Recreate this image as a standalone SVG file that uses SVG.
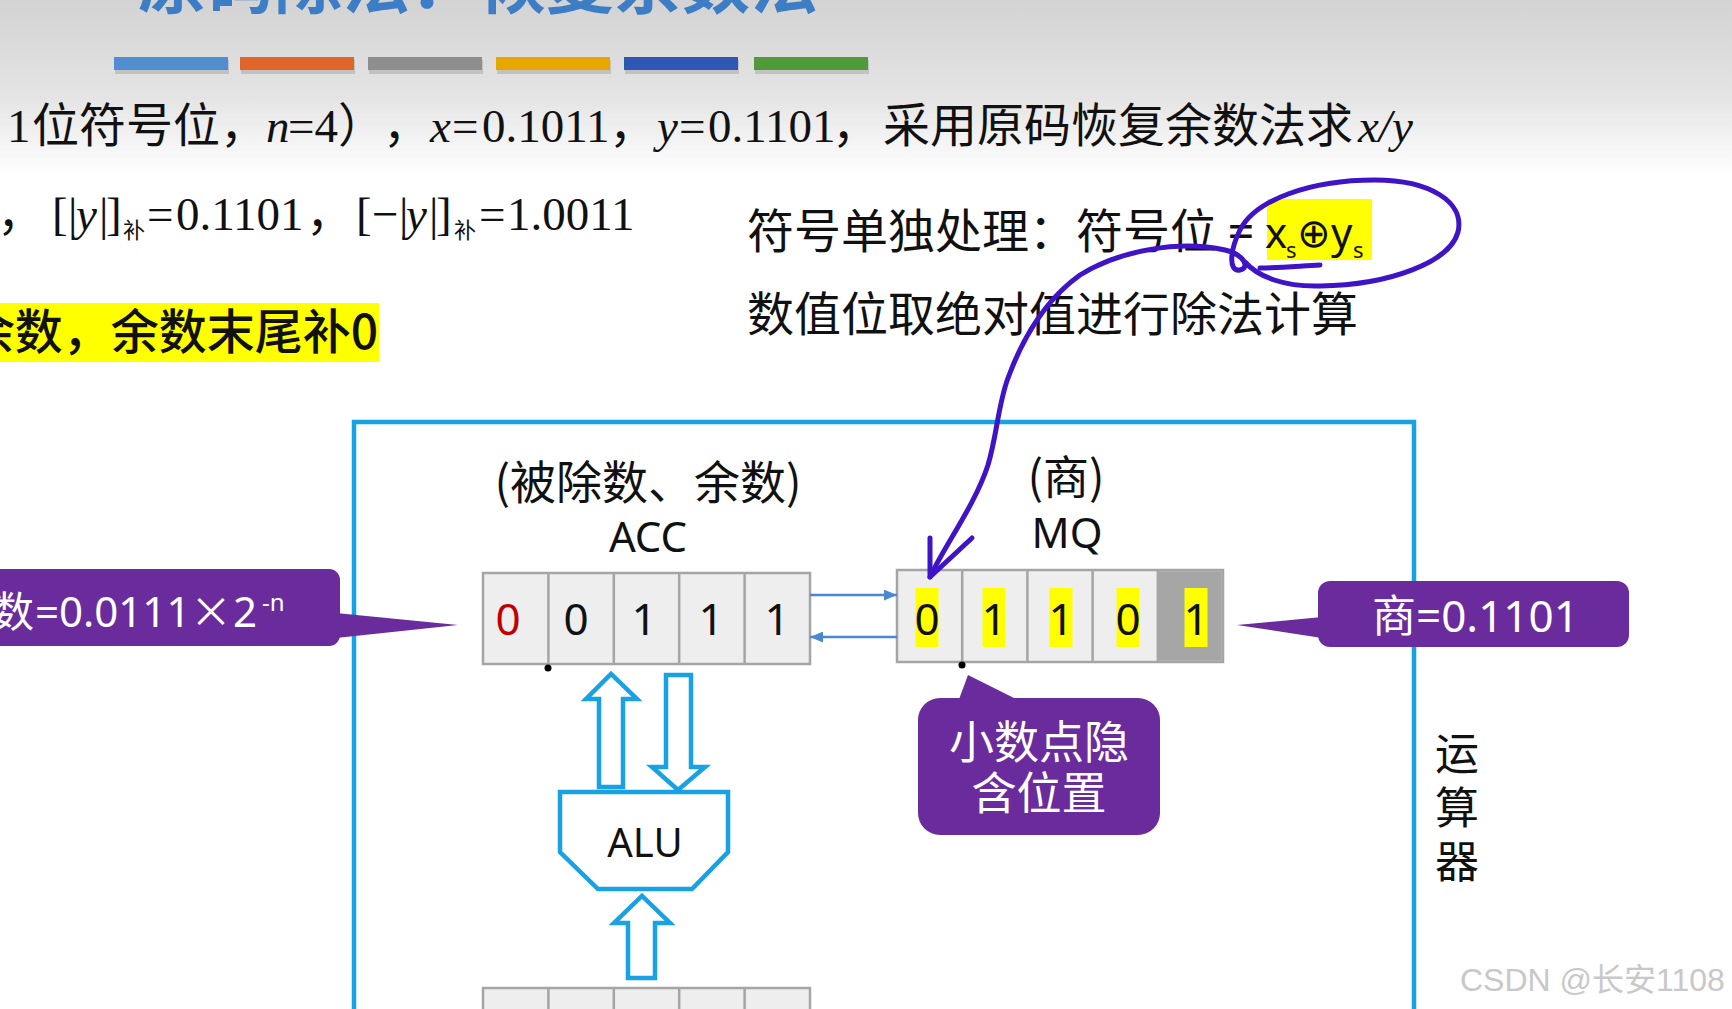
<svg xmlns="http://www.w3.org/2000/svg" width="1732" height="1009" viewBox="0 0 1732 1009">
<defs>
<linearGradient id="bg" x1="0" y1="0" x2="0" y2="1">
<stop offset="0" stop-color="#d3d3d3"/>
<stop offset="0.55" stop-color="#e4e4e4"/>
<stop offset="1" stop-color="#ffffff"/>
</linearGradient>
<marker id="ah" viewBox="0 0 12 10" refX="12" refY="5" markerWidth="13" markerHeight="11" markerUnits="userSpaceOnUse" orient="auto">
<path d="M0,0 L12,5 L0,10 z" fill="#4a88cf"/>
</marker>
<style>
.cjk{font-family:"Noto Sans CJK SC",sans-serif}
.serif{font-family:"Liberation Serif","Noto Sans CJK SC",serif}
.sans{font-family:"Noto Sans","Noto Sans CJK SC",sans-serif}
.it{font-style:italic}
.reg{fill:#eeeeee;stroke:#a5a5a5;stroke-width:2.5}
.div{stroke:#a5a5a5;stroke-width:2.5}
.hollow{fill:#ffffff;stroke:#18a2e4;stroke-width:4.5;stroke-linejoin:miter}
.callout{fill:#6a2c9c}
.wt{fill:#ffffff}
.dig{font-family:"Noto Sans","Open Sans",sans-serif;font-size:44px;text-anchor:middle;fill:#111}
.pen{fill:none;stroke:#3f14c6;stroke-width:5;stroke-linecap:round;stroke-linejoin:round}
.thin{stroke:#4a88cf;stroke-width:2.5;fill:none}
</style>
</defs>

<rect x="0" y="0" width="1732" height="175" fill="url(#bg)"/>
<rect x="0" y="175" width="1732" height="834" fill="#ffffff"/>

<g id="title">
<text x="138" y="8" class="cjk" font-size="68" font-weight="700" fill="#3d7dc6">原码除法：恢复余数法</text>
</g>

<g id="bars">
<g fill="#000" opacity="0.13">
<rect x="115" y="60" width="114" height="14"/><rect x="241" y="60" width="114" height="14"/><rect x="369" y="60" width="114" height="14"/><rect x="497" y="60" width="114" height="14"/><rect x="625" y="60" width="114" height="14"/><rect x="755" y="60" width="114" height="14"/>
</g>
<rect x="114" y="57" width="114" height="13" fill="#4f8fd1"/>
<rect x="240" y="57" width="114" height="13" fill="#e0652a"/>
<rect x="368" y="57" width="114" height="13" fill="#8e8e8e"/>
<rect x="496" y="57" width="114" height="13" fill="#e8a700"/>
<rect x="624" y="57" width="114" height="13" fill="#2f57b5"/>
<rect x="754" y="57" width="114" height="13" fill="#4f9a3a"/>
</g>

<g id="line1" class="serif" font-size="47" fill="#111">
<text y="142"><tspan x="7">1</tspan><tspan x="32" class="cjk">位符号位，</tspan><tspan x="266" class="it">n</tspan><tspan x="288">=4</tspan><tspan x="338" class="cjk">）</tspan><tspan x="383" class="cjk">，</tspan><tspan x="430" class="it">x</tspan><tspan x="452">=</tspan><tspan x="482">0.1011</tspan><tspan x="609" class="cjk">，</tspan><tspan x="657" class="it">y</tspan><tspan x="679">=</tspan><tspan x="708">0.1101</tspan><tspan x="832" class="cjk">，</tspan><tspan x="883" class="cjk">采用原码恢复余数法求</tspan><tspan x="1358" class="it">x/y</tspan></text>
</g>

<g id="line2" class="serif" font-size="47" fill="#111">
<text y="230"><tspan x="-3" class="cjk">，</tspan><tspan x="52">[</tspan><tspan x="68">|</tspan><tspan x="76" class="it">y</tspan><tspan x="99">|</tspan><tspan x="106">]</tspan><tspan x="123" y="238" font-size="22" class="cjk">补</tspan><tspan x="147" y="230">=</tspan><tspan x="176">0.1101</tspan><tspan x="306" class="cjk">，</tspan><tspan x="356">[</tspan><tspan x="372">−</tspan><tspan x="399">|</tspan><tspan x="406" class="it">y</tspan><tspan x="429">|</tspan><tspan x="436">]</tspan><tspan x="454" y="238" font-size="22" class="cjk">补</tspan><tspan x="479" y="230">=</tspan><tspan x="507">1.0011</tspan></text>
</g>

<g id="line3">
<rect x="0" y="303" width="379" height="59" fill="#ffff00"/>
<text x="378" y="349" class="cjk" font-size="48" font-weight="500" text-anchor="end" fill="#111">余数，余数末尾补0</text>
</g>

<g id="sign-note" class="cjk" font-size="47" fill="#111">
<rect x="1267" y="199" width="105" height="61" fill="#ffff00"/>
<text x="747" y="248">符号单独处理：符号位 <tspan class="sans">=</tspan></text>
<text y="248" class="sans" font-size="42"><tspan x="1265">x</tspan><tspan x="1286" y="258" font-size="22">s</tspan><tspan x="1297" y="247" font-family="DejaVu Sans" font-size="40">⊕</tspan><tspan x="1331" y="248">y</tspan><tspan x="1353" y="258" font-size="22">s</tspan></text>
<text x="747" y="331">数值位取绝对值进行除法计算</text>
</g>

<g id="alu-frame">
<rect x="354" y="422" width="1060" height="700" fill="none" stroke="#15a3e3" stroke-width="4.5"/>
<text class="cjk" font-size="44" fill="#111" x="1457" y="731" writing-mode="vertical-rl" letter-spacing="10">运算器</text>
</g>

<g id="acc">
<text x="648" y="499" class="cjk" font-size="46" text-anchor="middle" fill="#111">(被除数、余数)</text>
<text x="648" y="552" class="sans" font-size="42" text-anchor="middle" fill="#111">ACC</text>
<rect x="483" y="573" width="327" height="91" class="reg"/>
<line x1="548.4" y1="573" x2="548.4" y2="664" class="div"/>
<line x1="613.8" y1="573" x2="613.8" y2="664" class="div"/>
<line x1="679.2" y1="573" x2="679.2" y2="664" class="div"/>
<line x1="744.6" y1="573" x2="744.6" y2="664" class="div"/>
<text x="508" y="635" class="dig" style="fill:#c00000">0</text>
<text x="576" y="635" class="dig">0</text>
<text x="644" y="635" class="dig">1</text>
<text x="711" y="635" class="dig">1</text>
<text x="777" y="635" class="dig">1</text>
<circle cx="548" cy="668" r="3.5" fill="#000"/>
</g>

<g id="mq">
<text x="1066" y="494" class="cjk" font-size="46" text-anchor="middle" fill="#111">(商)</text>
<text x="1067" y="548" class="sans" font-size="42" text-anchor="middle" fill="#111">MQ</text>
<rect x="897" y="570" width="326" height="92" class="reg"/>
<rect x="1157.8" y="571.2" width="64" height="89.6" fill="#a6a6a6"/>
<line x1="962.2" y1="570" x2="962.2" y2="662" class="div"/>
<line x1="1027.4" y1="570" x2="1027.4" y2="662" class="div"/>
<line x1="1092.6" y1="570" x2="1092.6" y2="662" class="div"/>
<line x1="1157.8" y1="570" x2="1157.8" y2="662" class="div"/>
<g fill="#ffff00">
<rect x="915.5" y="588" width="23" height="59"/>
<rect x="982.5" y="588" width="23" height="59"/>
<rect x="1049.5" y="588" width="23" height="59"/>
<rect x="1116.5" y="588" width="23" height="59"/>
<rect x="1184.5" y="588" width="23" height="59"/>
</g>
<text x="927" y="635" class="dig">0</text>
<text x="994" y="635" class="dig">1</text>
<text x="1061" y="635" class="dig">1</text>
<text x="1128" y="635" class="dig">0</text>
<text x="1196" y="635" class="dig">1</text>
<circle cx="962" cy="665" r="3.5" fill="#000"/>
</g>

<g id="alu">
<polygon points="560,792 728,792 728,852 692,889 598,889 560,852" class="hollow"/>
<text x="645" y="857" class="sans" font-size="40" text-anchor="middle" fill="#111">ALU</text>
</g>

<g id="bottom-reg">
<rect x="483" y="988" width="327" height="40" class="reg"/>
<line x1="548.4" y1="988" x2="548.4" y2="1009" class="div"/>
<line x1="613.8" y1="988" x2="613.8" y2="1009" class="div"/>
<line x1="679.2" y1="988" x2="679.2" y2="1009" class="div"/>
<line x1="744.6" y1="988" x2="744.6" y2="1009" class="div"/>
</g>

<g id="callout-remainder">
<polygon points="336,613 458,625 336,638" class="callout"/>
<rect x="-20" y="569" width="360" height="77" rx="11" class="callout"/>
<text y="627" class="sans wt" font-size="42"><tspan x="-8" class="cjk">数</tspan><tspan x="35">=0.0111</tspan><tspan x="190" class="cjk">×</tspan><tspan x="233">2</tspan><tspan x="262" y="611" font-size="24">-n</tspan></text>
</g>

<g id="callout-quotient">
<polygon points="1322,617 1237,625 1322,638" class="callout"/>
<rect x="1318" y="581" width="311" height="66" rx="12" class="callout"/>
<text x="1372" y="632" class="sans wt" font-size="44"><tspan class="cjk">商</tspan>=0.1101</text>
</g>

<g id="callout-point">
<polygon points="968,675 958,702 1022,702" class="callout"/>
<rect x="918" y="698" width="242" height="137" rx="22" class="callout"/>
<text class="cjk wt" font-size="45" text-anchor="middle"><tspan x="1039" y="759">小数点隐</tspan><tspan x="1039" y="810">含位置</tspan></text>
</g>

<g id="connectors">
<line x1="810" y1="595" x2="897" y2="595" class="thin" marker-end="url(#ah)"/>
<line x1="897" y1="637" x2="810" y2="637" class="thin" marker-end="url(#ah)"/>
<polygon points="599,787 599,699 586,699 611,674 637,699 623,699 623,787" class="hollow"/>
<polygon points="666,675 691,675 691,767 705,767 678,790 652,767 666,767" class="hollow"/>
<polygon points="628,978 628,923 614,923 642,896 670,923 655,923 655,978" class="hollow"/>
</g>

<g id="annotation">
<path class="pen" d="M 930 577 C 945 545, 975 505, 988 465 C 997 435, 998 405, 1008 378 C 1022 340, 1045 300, 1080 275 C 1120 250, 1180 240, 1225 250 C 1245 255, 1250 268, 1240 270 C 1228 272, 1230 250, 1240 230 C 1255 200, 1310 180, 1375 180 C 1430 180, 1465 202, 1458 232 C 1450 262, 1390 285, 1320 286 C 1285 287, 1258 277, 1245 262"/>
<path class="pen" d="M 1260 268 C 1280 268, 1300 266, 1320 265"/>
<path class="pen" d="M 930 538 L 930 577 L 972 538"/>
</g>

<g id="watermark">
<text x="1460" y="991" font-family="Liberation Sans, Noto Sans CJK SC, sans-serif" font-size="32" fill="#c8c8c8">CSDN @长安1108</text>
</g>
</svg>
